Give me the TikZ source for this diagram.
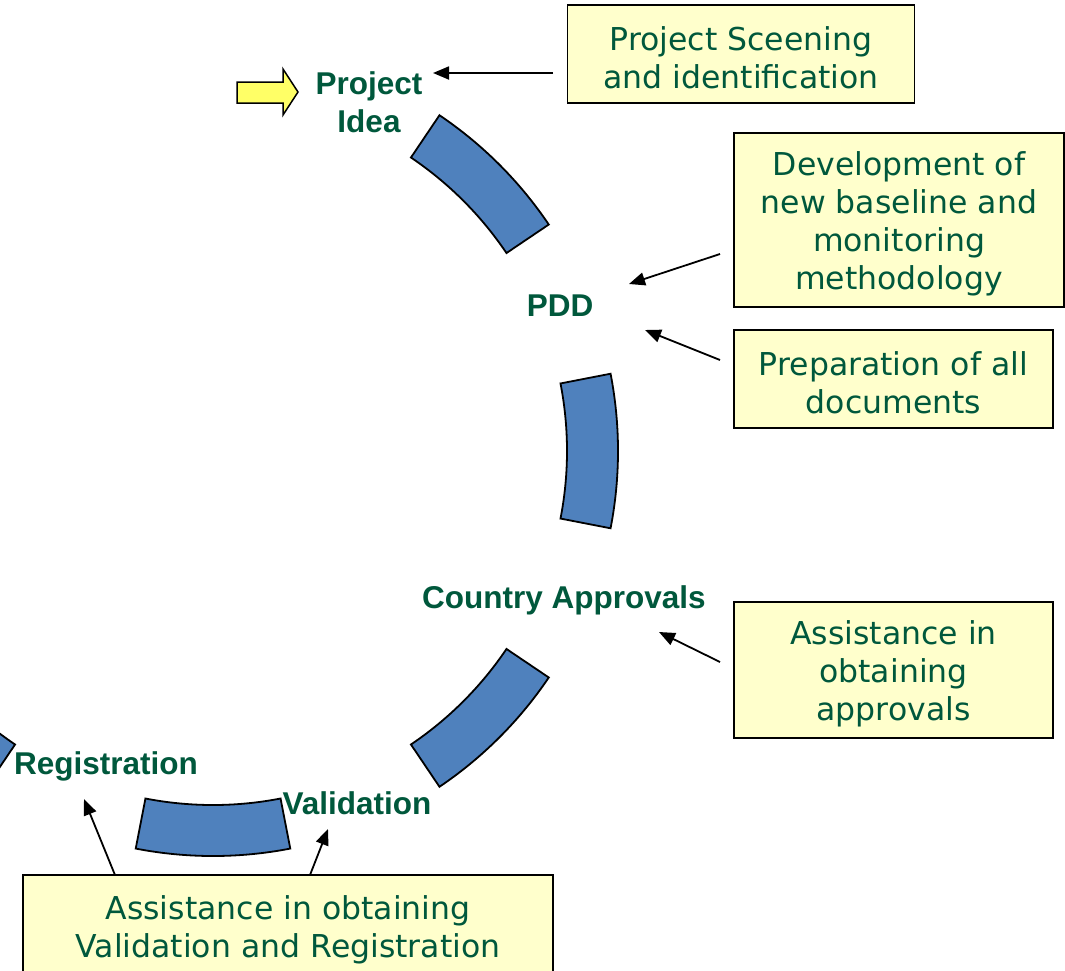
\documentclass[tikz,border=0pt]{standalone}
\usepackage{fontspec}
\setmainfont{DejaVu Sans}
\newfontfamily\labelfont{Liberation Sans}
\usetikzlibrary{arrows.meta,calc}
\definecolor{txtgreen}{RGB}{0,88,60}
\definecolor{boxfill}{RGB}{255,255,204}
\definecolor{segblue}{RGB}{79,129,189}
\definecolor{arrowyellow}{RGB}{255,255,102}
\newcommand{\topstr}{\rule{0pt}{31pt}}
\tikzset{
  box/.style={draw=black, line width=1.6pt, fill=boxfill, inner sep=0pt, align=center,
    text=txtgreen, font=\fontsize{31.5}{38}\selectfont},
  steplabel/.style={inner sep=0pt, align=center, text=txtgreen,
    font=\labelfont\bfseries\fontsize{31.5}{38}\selectfont},
  conn/.style={draw=black, line width=1.8pt, -{Triangle[length=16pt,width=13pt]}},
  seg/.style={draw=black, line width=1.8pt, fill=segblue, line join=miter},
}
\begin{document}
\begin{tikzpicture}[x=1pt,y=1pt]
\useasboundingbox (0,0) rectangle (1065,-970);
\clip (0,0) rectangle (1065,-970);
\fill[white] (0,0) rectangle (1065,-970);
% ring centre
\coordinate (C) at (213,-451);
% ring segments
\foreach \m in {45,0,-45,-90,-135}{
  \pgfmathsetmacro{\a}{\m-11}
  \pgfmathsetmacro{\b}{\m+11}
  \draw[seg] ($(C)+(\a:354)$) -- ($(C)+(\a:405)$)
     arc[start angle=\a, end angle=\b, radius=405pt]
     -- ($(C)+(\b:354)$)
     arc[start angle=\b, end angle=\a, radius=354pt] -- cycle;
}
% yellow block arrow
\draw[black, line width=1.5pt, fill=arrowyellow, line join=miter]
  (237,-82) -- (283,-82) -- (283,-69) -- (298,-92) -- (283,-115) -- (283,-103) -- (237,-103) -- cycle;
% step labels
\node[steplabel] (idea) at (369,-102) {Project\\Idea};
\node[steplabel] (pdd) at (560,-306) {PDD};
\node[steplabel] (country) at (564,-600) {Country Approvals};
\node[steplabel] (reg) at (106,-766) {Registration};
\node[steplabel] (val) at (357,-803) {Validation};
% boxes
\node[box, minimum width=347, minimum height=98] (b1) at (741,-54) {\topstr Project Sceening\\and identification};
\node[box, minimum width=330, minimum height=174] (b2) at (899,-220) {\topstr Development of\\new baseline and\\monitoring\\methodology};
\node[box, minimum width=319, minimum height=98] (b3) at (893.5,-379) {\topstr Preparation of all\\documents};
\node[box, minimum width=319, minimum height=136] (b4) at (893.5,-670) {\topstr Assistance in\\obtaining\\approvals};
\node[box, minimum width=530, minimum height=102] (b5) at (288,-926) {\topstr Assistance in obtaining\\Validation and Registration};
% connector end points
\coordinate (s1) at (553,-73);   \coordinate (e1) at (433,-73);
\coordinate (s2) at (720,-254);  \coordinate (e2) at (629,-284);
\coordinate (s3) at (720,-360);  \coordinate (e3) at (645,-330);
\coordinate (s4) at (720,-662);  \coordinate (e4) at (659,-632);
\coordinate (s5) at (115,-875);  \coordinate (e5) at (84,-799);
\coordinate (s6) at (310,-875);  \coordinate (e6) at (328,-829);
\draw[conn] (s1) -- (e1);
\draw[conn] (s2) -- (e2);
\draw[conn] (s3) -- (e3);
\draw[conn] (s4) -- (e4);
\draw[conn] (s5) -- (e5);
\draw[conn] (s6) -- (e6);
\end{tikzpicture}
\end{document}
